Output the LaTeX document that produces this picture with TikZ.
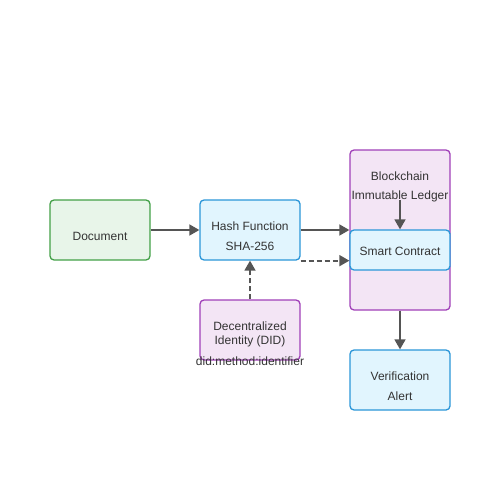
\documentclass[tikz,border=0pt]{standalone}
\usepackage{fontspec}
\setmainfont{Liberation Sans}
\usetikzlibrary{arrows.meta,calc}
\definecolor{txt}{HTML}{333333}
\definecolor{edge}{HTML}{555555}
\definecolor{gfill}{HTML}{E8F5E9}
\definecolor{gline}{HTML}{43A047}
\definecolor{bfill}{HTML}{E1F5FE}
\definecolor{bline}{HTML}{2B96D8}
\definecolor{pfill}{HTML}{F3E5F5}
\definecolor{pline}{HTML}{A040B8}
\tikzset{
  box/.style={draw, rounded corners=4pt, line width=1.3pt, minimum width=100pt, inner sep=0pt},
  greenbox/.style={box, fill=gfill, draw=gline},
  bluebox/.style={box, fill=bfill, draw=bline},
  purplebox/.style={box, fill=pfill, draw=pline},
  conn/.style={draw=edge, line width=1.7pt, -{Triangle[length=10pt,width=11pt]}},
  dconn/.style={conn, dash pattern=on 5pt off 3pt},
  lbl/.style={text=txt, font=\fontsize{12}{14}\selectfont, inner sep=0pt}
}
\begin{document}
\begin{tikzpicture}[x=1pt,y=-1pt]
\useasboundingbox (0,0) rectangle (500,500);
\node[greenbox, minimum height=60pt] (doc) at (100,230) {};
\node[lbl] (doct) at (100,236) {Document};
\node[bluebox, minimum height=60pt] (hash) at (250,230) {};
\node[lbl] (h1) at (250,226) {Hash Function};
\node[lbl] (h2) at (250,246) {SHA-256};
\node[purplebox, minimum height=160pt] (bc) at (400,230) {};
\node[lbl] (b1) at (400,176) {Blockchain};
\node[lbl] (b2) at (400,196) {Immutable Ledger};
\node[bluebox, minimum height=40pt] (sc) at (400,250) {};
\node[lbl] (sct) at (400,251) {Smart Contract};
\node[purplebox, minimum height=60pt] (did) at (250,330) {};
\node[lbl] (d1) at (250,326) {Decentralized};
\node[lbl] (d2) at (250,341) {Identity (DID)};
\node[lbl] (d3) at (250,361) {did:method:identifier};
\node[bluebox, minimum height=60pt] (ver) at (400,380) {};
\node[lbl] (v1) at (400,376) {Verification};
\node[lbl] (v2) at (400,396) {Alert};
\coordinate (bcin) at (400,200);
\draw[conn] (doc.east) -- (hash.west);
\draw[conn] (hash.east) -- (hash.east -| sc.west);
\draw[dconn] (hash.south east) -- (hash.south east -| sc.west);
\draw[conn] (bcin) -- (sc.north);
\draw[dconn] (did.north) -- (hash.south);
\draw[conn] (bc.south) -- (ver.north);
\end{tikzpicture}
\end{document}
